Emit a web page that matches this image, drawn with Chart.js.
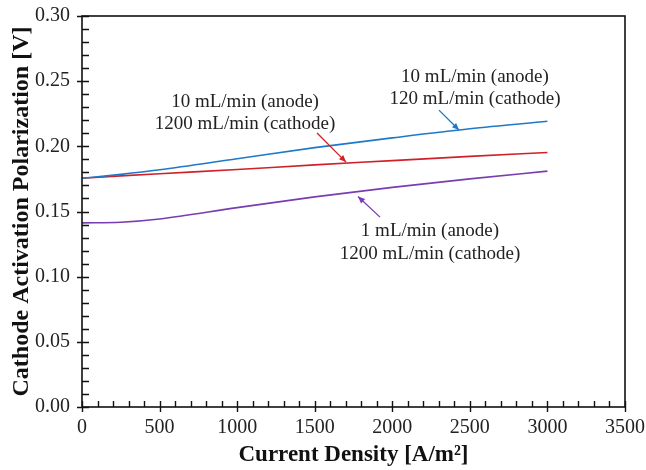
<!DOCTYPE html>
<html>
<head>
<meta charset="utf-8">
<script src="https://cdn.jsdelivr.net/npm/chart.js@4.4.1/dist/chart.umd.min.js"></script>
<style>
  html, body { margin: 0; padding: 0; background: #fff; }
  #wrap { width: 646px; height: 470px; }
</style>
</head>
<body>
<div id="wrap"><canvas id="c" width="646" height="470"></canvas></div>
<script>
// Current density [A/m²]
const currentDensity = [0, 250, 500, 1000, 1500, 2000, 2500, 3000];
// Cathode activation polarization [V] for each flow condition
const blueAnode10Cathode120 = [0.1755, 0.1785, 0.1820, 0.1905, 0.1990, 0.2065, 0.2135, 0.2192];
const redAnode10Cathode1200 = [0.1755, 0.1773, 0.1790, 0.1822, 0.1858, 0.1890, 0.1923, 0.1953];
const purpleAnode1Cathode1200 = [0.1413, 0.1418, 0.1443, 0.1530, 0.1612, 0.1685, 0.1750, 0.1810];

const xTicks = [0, 500, 1000, 1500, 2000, 2500, 3000, 3500];
const yTicks = [0.00, 0.05, 0.10, 0.15, 0.20, 0.25, 0.30];

const colBlue = '#1f78c8';
const colRed = '#d0202a';
const colPurple = '#7a3db0';

// Callout labels with arrows, in data coordinates
const callouts = [
  { color: colBlue, lines: ['10 mL/min (anode)', '120 mL/min (cathode)'],
    textX: 2533, textY: [0.2532, 0.2363], from: [2301, 0.2278], to: [2430, 0.2125] },
  { color: colRed, lines: ['10 mL/min (anode)', '1200 mL/min (cathode)'],
    textX: 1051, textY: [0.2340, 0.2171], from: [1515, 0.2102], to: [1702, 0.1879] },
  { color: colPurple, lines: ['1 mL/min (anode)', '1200 mL/min (cathode)'],
    textX: 2243, textY: [0.1349, 0.1172], from: [1921, 0.1457], to: [1779, 0.1615] }
];

const serif = '"Liberation Serif", "Times New Roman", serif';

function pts(ys) { return currentDensity.map((x, i) => ({ x: x, y: ys[i] })); }

// Frame box plus inward ticks (major and minor)
const framePlugin = {
  id: 'frame',
  afterDatasetsDraw(chart) {
    const { ctx, chartArea: a, scales } = chart;
    const xs = scales.x, ys = scales.y;
    ctx.save();
    ctx.strokeStyle = '#111';
    ctx.lineWidth = 1.6;
    ctx.strokeRect(a.left, a.top, a.right - a.left, a.bottom - a.top);
    ctx.lineWidth = 1.4;
    ctx.beginPath();
    // x ticks
    for (let v = 0; v <= 3500; v += 100) {
      const px = Math.round(xs.getPixelForValue(v)) + 0.5;
      const major = v % 500 === 0;
      ctx.moveTo(px, a.bottom + (major ? 5 : 0));
      ctx.lineTo(px, a.bottom - 6);
    }
    // y ticks
    for (let k = 0; k <= 30; k++) {
      const v = k / 100;
      const py = Math.round(ys.getPixelForValue(v)) + 0.5;
      const major = k % 5 === 0;
      ctx.moveTo(a.left - (major ? 5 : 0), py);
      ctx.lineTo(a.left + 7, py);
    }
    ctx.stroke();
    ctx.restore();
  }
};

const calloutPlugin = {
  id: 'callouts',
  afterDatasetsDraw(chart) {
    const { ctx, scales } = chart;
    const xs = scales.x, ys = scales.y;
    ctx.save();
    callouts.forEach(c => {
      const x1 = xs.getPixelForValue(c.from[0]), y1 = ys.getPixelForValue(c.from[1]);
      const x2 = xs.getPixelForValue(c.to[0]), y2 = ys.getPixelForValue(c.to[1]);
      ctx.strokeStyle = c.color;
      ctx.fillStyle = c.color;
      ctx.lineWidth = 1.3;
      ctx.beginPath();
      ctx.moveTo(x1, y1);
      ctx.lineTo(x2, y2);
      ctx.stroke();
      const ang = Math.atan2(y2 - y1, x2 - x1);
      const L = 7, W = 3;
      ctx.beginPath();
      ctx.moveTo(x2, y2);
      ctx.lineTo(x2 - L * Math.cos(ang) + W * Math.sin(ang), y2 - L * Math.sin(ang) - W * Math.cos(ang));
      ctx.lineTo(x2 - L * Math.cos(ang) - W * Math.sin(ang), y2 - L * Math.sin(ang) + W * Math.cos(ang));
      ctx.closePath();
      ctx.fill();
      ctx.fillStyle = '#222';
      ctx.font = '19px ' + serif;
      ctx.textAlign = 'center';
      ctx.textBaseline = 'middle';
      c.lines.forEach((t, i) => {
        ctx.fillText(t, xs.getPixelForValue(c.textX), ys.getPixelForValue(c.textY[i]));
      });
    });
    ctx.restore();
  }
};

const lineStyle = { borderWidth: 1.6, pointRadius: 0, fill: false, cubicInterpolationMode: 'monotone' };

new Chart(document.getElementById('c'), {
  type: 'line',
  data: {
    datasets: [
      Object.assign({ label: '10 mL/min (anode), 120 mL/min (cathode)', data: pts(blueAnode10Cathode120), borderColor: colBlue }, lineStyle),
      Object.assign({ label: '10 mL/min (anode), 1200 mL/min (cathode)', data: pts(redAnode10Cathode1200), borderColor: colRed }, lineStyle),
      Object.assign({ label: '1 mL/min (anode), 1200 mL/min (cathode)', data: pts(purpleAnode1Cathode1200), borderColor: colPurple }, lineStyle)
    ]
  },
  options: {
    responsive: false,
    animation: false,
    layout: { padding: { top: 16, right: 21, left: 0, bottom: 0 } },
    plugins: { legend: { display: false }, tooltip: { enabled: false } },
    scales: {
      x: {
        type: 'linear', min: 0, max: 3500,
        afterBuildTicks(s) { s.ticks = xTicks.map(v => ({ value: v })); },
        afterFit(s) { s.height = 63; s.paddingLeft = 0; s.paddingRight = 0; },
        grid: { display: false, drawTicks: false },
        border: { display: false },
        ticks: { color: '#222', padding: 9, maxRotation: 0, font: { family: serif, size: 20 }, callback: v => String(v) },
        title: { display: true, text: 'Current Density [A/m²]', color: '#111', padding: { top: 0, bottom: 1 },
                 font: { family: serif, size: 23, weight: 'bold' } }
      },
      y: {
        type: 'linear', min: 0, max: 0.30,
        afterBuildTicks(s) { s.ticks = yTicks.map(v => ({ value: v })); },
        afterFit(s) { s.width = 82; s.paddingTop = 0; s.paddingBottom = 0; },
        grid: { display: false, drawTicks: false },
        border: { display: false },
        ticks: { color: '#222', padding: 12, font: { family: serif, size: 20 }, callback: v => Number(v).toFixed(2) },
        title: { display: true, text: 'Cathode Activation Polarization [V]', color: '#111', padding: { top: 7, bottom: 0 },
                 font: { family: serif, size: 24, weight: 'bold' } }
      }
    }
  },
  plugins: [framePlugin, calloutPlugin]
});
</script>
</body>
</html>
